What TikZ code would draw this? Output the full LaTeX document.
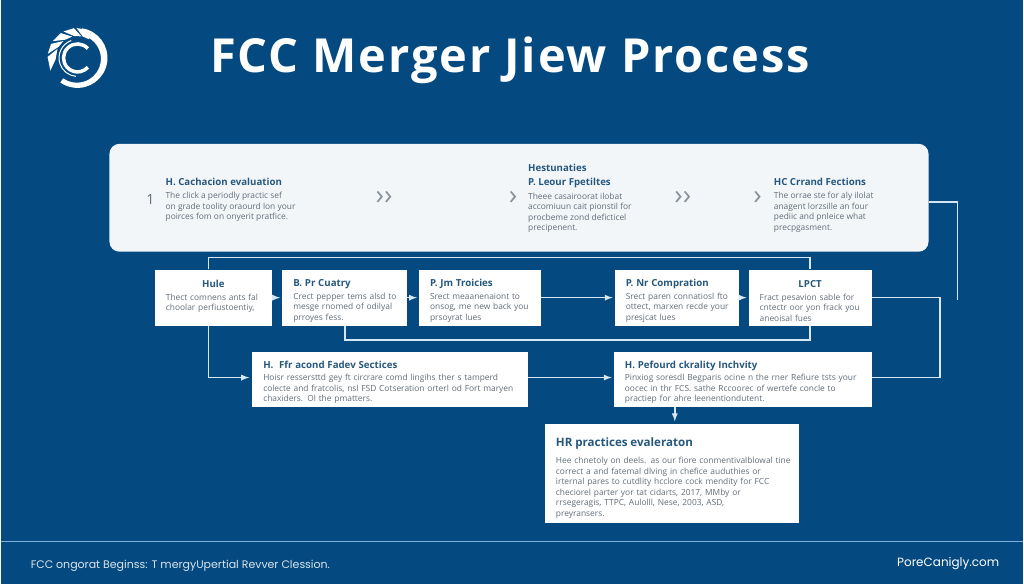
\documentclass[tikz,border=0pt]{standalone}
\usepackage{fontspec}
\setmainfont{Open Sans}
\newfontfamily\footfont{Poppins}
\usepackage{tikz}
\definecolor{bgblue}{RGB}{4,73,127}
\definecolor{panelgray}{RGB}{243,246,249}
\definecolor{headblue}{RGB}{38,88,126}
\definecolor{bodygray}{RGB}{98,110,122}
\definecolor{wireblue}{RGB}{214,232,245}
\definecolor{ruleblue}{RGB}{125,176,220}
\newcommand{\hd}{\fontsize{9.7}{10.5}\selectfont\bfseries\color{headblue}}
\newcommand{\boxtop}{\rule{0pt}{14pt}}

\begin{document}
\begin{tikzpicture}[x=1pt,y=-1pt]
\tikzstyle{box}=[fill=white,rectangle,inner xsep=11pt,inner ysep=0pt,align=left,
  font=\fontsize{8.4}{10.5}\selectfont,text=bodygray]
\tikzstyle{boxw}=[minimum width=#1pt,text width=#1pt-22pt]
\tikzstyle{column}=[anchor=north west,inner sep=0pt,align=left,
  font=\fontsize{8.4}{10.5}\selectfont,text=bodygray]
\tikzstyle{chevron}=[inner sep=0pt,font=\fontsize{28}{28}\selectfont,text=bodygray!75]
\tikzstyle{wire}=[draw=wireblue,line width=1.7pt]
\tikzstyle{flow}=[wire,-latex,shorten >=2pt]
\tikzstyle{logopart}=[fill=white,draw=none]

\fill[bgblue] (0,0) rectangle (1024,585);

% logo
\begin{scope}[shift={(77,58)}]
\fill[logopart] (82:30pt) arc[start angle=82,end angle=-125,radius=30pt]
  -- (-125:25pt) arc[start angle=-125,end angle=60,radius=24pt] -- cycle;
\fill[logopart] (92:30pt) -- (68:30pt) -- (58:22pt) -- (76:22pt) -- cycle;
\fill[logopart] (118:30pt) -- (97:30pt) -- (80:22pt) -- (98:22pt) -- cycle;
\fill[logopart] (146:30pt) -- (124:30pt) -- (104:22pt) -- (124:22pt) -- cycle;
\fill[logopart] (172:30pt) -- (152:30pt) -- (130:22pt) -- (150:22pt) -- cycle;
\fill[logopart] (205:30pt) -- (178:30pt) -- (156:22pt) -- (184:22pt) -- cycle;
\draw[white,line width=3.5pt] (42:14pt) arc[start angle=42,end angle=318,radius=14pt];
\draw[white,line width=1pt] (110:18.5pt) arc[start angle=110,end angle=265,radius=18.5pt];
\end{scope}

% title
\path (510,73) node[anchor=base,text=white,inner sep=0pt,font=\fontsize{47}{50}\selectfont\bfseries\addfontfeature{LetterSpace=4}] (title) {FCC Merger Jiew Process};

% top panel
\path (519,198) node[fill=panelgray,rounded corners=10pt,minimum width=820pt,minimum height=108pt,inner sep=0pt] (panel) {};
\path (150,200) node[text=bodygray,inner sep=0pt,font=\fontsize{14}{14}\selectfont] (one) {1};
\path (165,178) node[column] (evalcol) {{\hd H. Cachacion evaluation}\\[3pt]
The click a periodly practic sef\\ on grade toolity oraourd lon your\\ poirces fom on onyerit pratfice.};
\path (528,164) node[column] (leourcol) {{\hd Hestunaties}\\[4pt]{\hd P. Leour Fpetiltes}\\[3pt]
Theee casairoorat ilobat\\ accomiuun cait pionstil for\\ procbeme zond deficticel\\ precipenent.};
\path (774,178) node[column] (crrandcol) {{\hd HC Crrand Fections}\\[3pt]
The orrae ste for aly ilolat\\ anagent lorzsille an four\\ pediic and pnleice what\\ precpgasment.};
\path (384,198) node[chevron] (chevone) {››};
\path (513,198) node[chevron] (chevtwo) {›};
\path (683,198) node[chevron] (chevthree) {››};
\path (758,198) node[chevron] (chevfour) {›};

% middle row
\path (213,298) node[box,boxw=117,minimum height=56pt] (hule) {\boxtop\makebox[95pt]{\hd Hule}\\[2pt]
Thect comnens ants fal\\ choolar perfiustoentiy,\\ \mbox{}};
\path (344.5,298) node[box,boxw=125,minimum height=56pt] (cuatry) {\boxtop{\hd B. Pr Cuatry}\\[2pt]
\mbox{Crect pepper tems alsd to}\\ \mbox{mesge rnomed of odilyal}\\ prroyes fess.};
\path (480,298) node[box,boxw=122,minimum height=56pt] (troicies) {\boxtop{\hd P. Jm Troicies}\\[2pt]
Srect meaanenaiont to\\ onsog, me new back you\\ prsoyrat lues};
\path (677,298) node[box,boxw=124,minimum height=56pt] (compration) {\boxtop{\hd P. Nr Compration}\\[2pt]
\mbox{Srect paren connatiosl fto}\\ \mbox{ottect, marxen recde your}\\ presjcat lues};
\path (810.5,298) node[box,boxw=123,minimum height=56pt] (lpct) {\boxtop\makebox[101pt]{\hd LPCT}\\[2pt]
Fract pesavion sable for\\ \mbox{cntectr oor yon frack you}\\ aneoisal fues};

% lower rows
\path (390,379.5) node[box,boxw=276,minimum height=55pt] (sectices) {\boxtop{\hd H.\ \ Ffr acond Fadev Sectices}\\[2pt]
\mbox{Hoisr ressersttd gey ft circrare comd lingihs ther s tamperd}\\ \mbox{colecte and fratcolis, nsl FSD Cotseration orterl od Fort maryen}\\ chaxiders. Ol the pmatters.};
\path (743,379.5) node[box,boxw=258,minimum height=55pt] (inchvity) {\boxtop{\hd H. Pefourd ckrality Inchvity}\\[2pt]
\mbox{Pinxiog soresdl Begparis ocine n the rner Refiure tsts your}\\ oocec in thr FCS. sathe Rccoorec of wertefe concle to\\ practiep for ahre leenentiondutent.};
\path (672,474) node[box,boxw=254,minimum height=100pt] (hrbox) {\rule{0pt}{18pt}{\fontsize{11.6}{10.5}\selectfont\bfseries\color{headblue}HR practices evaleraton}\\[7pt]
\mbox{Hee chnetoly on deels. as our fiore conmentivalblowal tine}\\ correct a and fatemal dlving in chefice auduthies or\\ irternal pares to cutdlity hcclore cock mendity for FCC\\ checiorel parter yor tat cidarts, 2017, MMby or\\ rrsegeragis, TTPC, Aulolll, Nese, 2003, ASD,\\ preyransers.};

% footer
\coordinate (ruleleft) at (0,542);
\coordinate (ruleright) at (1024,542);
\draw[ruleblue,line width=1.2pt] (ruleleft) -- (ruleright);
\path (30,566) node[anchor=west,inner sep=0pt,text=white!85!bgblue,font=\footfont\fontsize{11}{12}\selectfont] (footleft) {FCC ongorat Beginss: T mergyUpertial Revver Clession.};
\path (1000,564) node[anchor=east,inner sep=0pt,text=white,font=\footfont\fontsize{12}{14}\selectfont] (footright) {PoreCanigly.com};

% connectors
\coordinate (panelend) at (958,300);
\draw[flow] (hule) -- (cuatry);
\draw[flow] (cuatry) -- (troicies);
\draw[flow] (troicies) -- (compration);
\draw[flow] (compration) -- (lpct);
\draw[wire] ([xshift=-5pt]hule.north) -- ++(0,-12) -| (lpct.north);
\draw[wire] (cuatry.south) -- ++(0,14) -| (lpct.south);
\draw[flow,shorten >=3pt] ([xshift=-5pt]hule.south) |- ([yshift=1.5pt]sectices.west);
\draw[flow] ([yshift=1.5pt]sectices.east) -- ([yshift=1.5pt]inchvity.west);
\draw[flow] ([xshift=-68pt]inchvity.south) -- ([xshift=3pt]hrbox.north);
\draw[wire] (lpct.east) -- ++(68,0) |- ([yshift=1.5pt]inchvity.east);
\draw[wire] ([yshift=-4pt]panel.east) -| (panelend);
\end{tikzpicture}
\end{document}
